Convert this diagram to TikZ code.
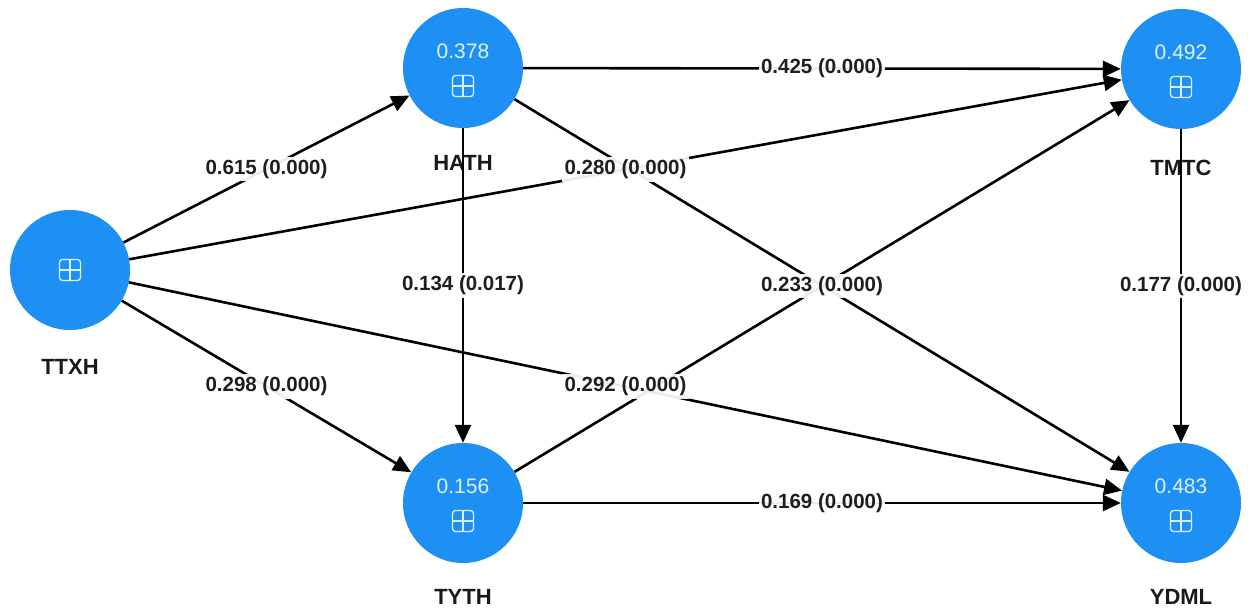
\documentclass[tikz,border=0pt]{standalone}
\usepackage{fontspec}
\setmainfont{Liberation Sans}
\usetikzlibrary{arrows.meta}
\definecolor{lvblue}{RGB}{30,144,243}
\definecolor{lvtext}{RGB}{222,240,255}
\begin{document}
\begin{tikzpicture}[x=1pt,y=-1pt,
  latent/.style={circle, fill=lvblue, minimum size=120pt, inner sep=0pt},
  rsq/.style={text=lvtext, font=\fontsize{21}{21}\selectfont, inner sep=0pt},
  expander/.style={draw=lvtext, line width=1.3pt, rounded corners=3pt,
    minimum size=21pt, inner sep=0pt,
    path picture={\draw[lvtext, line width=1.3pt]
      (path picture bounding box.north) -- (path picture bounding box.south)
      (path picture bounding box.west) -- (path picture bounding box.east);}},
  lvname/.style={font=\bfseries\fontsize{22}{22}\selectfont, text=black!90, inner sep=0pt},
  link/.style={line width=2.6pt, -{Triangle[length=18pt,width=16pt]}},
  coef/.style={fill=white, fill opacity=0.92, text opacity=1,
    font=\bfseries\fontsize{20.5}{20.5}\selectfont, inner sep=2.5pt, text=black!88}
]
\useasboundingbox (0,0) rectangle (1257,609);

% latent variables
\node[latent] (ttxh) at (70,270) {};
\node[latent] (hath) at (463,68) {};
\node[latent] (tyth) at (463,503) {};
\node[latent] (tmtc) at (1181,69) {};
\node[latent] (ydml) at (1181,503) {};

% R-squared values and expand icons
\node[expander] (ttxhi) at (ttxh) {};
\node[rsq] (hathr) at ([yshift=17pt]hath) {0.378};
\node[expander] (hathi) at ([yshift=-18pt]hath) {};
\node[rsq] (tythr) at ([yshift=17pt]tyth) {0.156};
\node[expander] (tythi) at ([yshift=-18pt]tyth) {};
\node[rsq] (tmtcr) at ([yshift=17pt]tmtc) {0.492};
\node[expander] (tmtci) at ([yshift=-18pt]tmtc) {};
\node[rsq] (ydmlr) at ([yshift=17pt]ydml) {0.483};
\node[expander] (ydmli) at ([yshift=-18pt]ydml) {};

% construct names
\node[lvname] (ttxhn) at ([yshift=-97pt]ttxh) {TTXH};
\node[lvname] (hathn) at ([yshift=-95pt]hath) {HATH};
\node[lvname] (tythn) at ([yshift=-94pt]tyth) {TYTH};
\node[lvname] (tmtcn) at ([yshift=-99pt]tmtc) {TMTC};
\node[lvname] (ydmln) at ([yshift=-94pt]ydml) {YDML};

% structural paths
\draw[link] (ttxh) -- (hath);
\draw[link] (ttxh) -- (tmtc);
\draw[link] (ttxh) -- (tyth);
\draw[link] (ttxh) -- (ydml);
\draw[link] (hath) -- (tmtc);
\draw[link] (hath) -- (tyth);
\draw[link] (hath) -- (ydml);
\draw[link] (tyth) -- (tmtc);
\draw[link] (tyth) -- (ydml);
\draw[link] (tmtc) -- (ydml);

% path coefficients (p-values)
\path (ttxh) -- (hath) node[coef, midway] {0.615 (0.000)};
\path (ttxh) -- (tmtc) node[coef, midway] {0.280 (0.000)};
\path (ttxh) -- (tyth) node[coef, midway] {0.298 (0.000)};
\path (ttxh) -- (ydml) node[coef, midway] {0.292 (0.000)};
\path (hath) -- (tmtc) node[coef, midway] {0.425 (0.000)};
\path (hath) -- (tyth) node[coef, midway] {0.134 (0.017)};
\path (tyth) -- (tmtc) node[coef, midway] {0.233 (0.000)};
\path (tyth) -- (ydml) node[coef, midway] {0.169 (0.000)};
\path (tmtc) -- (ydml) node[coef, midway] {0.177 (0.000)};
\end{tikzpicture}
\end{document}
